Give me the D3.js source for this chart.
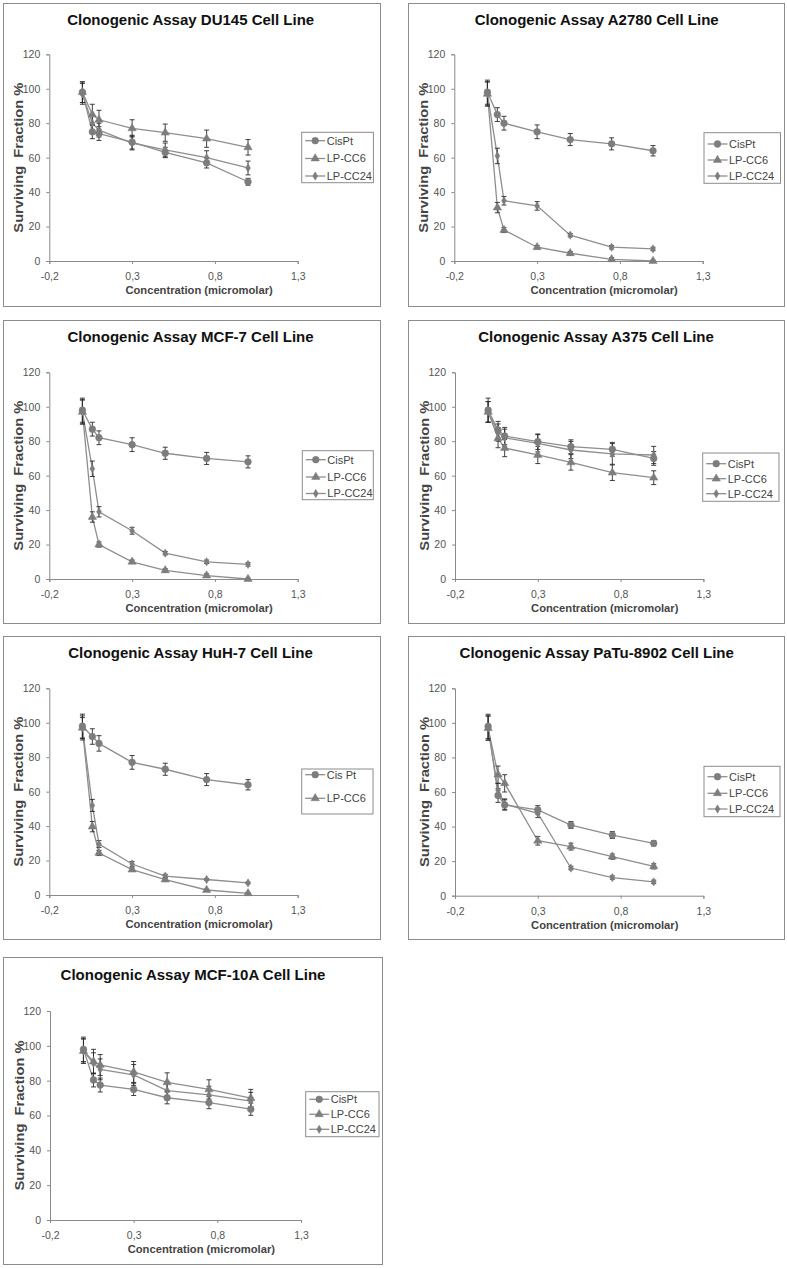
<!DOCTYPE html>
<html><head><meta charset="utf-8">
<script src="https://cdn.jsdelivr.net/npm/d3@7"></script>
<style>
html,body{margin:0;padding:0;background:#fff;}
svg{display:block;font-family:"Liberation Sans",Arial,sans-serif;}
</style></head>
<body>
<svg id="chart" width="787" height="1268"></svg>
<script>
// ---------- DATA ----------
const concentrations = [0, 0.06, 0.1, 0.3, 0.5, 0.75, 1.0];
const xTicks = [-0.2, 0.3, 0.8, 1.3];
const xTickLabels = ["-0,2", "0,3", "0,8", "1,3"];
const yTicks = [0, 20, 40, 60, 80, 100, 120];

const titles = [
  "Clonogenic Assay DU145 Cell Line",
  "Clonogenic Assay A2780 Cell Line",
  "Clonogenic Assay MCF-7 Cell Line",
  "Clonogenic Assay A375 Cell Line",
  "Clonogenic Assay HuH-7 Cell Line",
  "Clonogenic Assay PaTu-8902 Cell Line",
  "Clonogenic Assay MCF-10A Cell Line"
];
const seriesNames = ["CisPt", "LP-CC6", "LP-CC24"];
const seriesNamesHuH7 = ["Cis Pt", "LP-CC6"];
const markerShapes = ["circle", "triangle", "diamond"];

// DU145
const du145CisPt = [98, 75, 74, 69, 63, 57, 46];
const du145CisPtErr = [6, 4, 4, 4, 3, 3, 2];
const du145CC6 = [98, 85, 82, 77, 74.5, 71, 66];
const du145CC6Err = [6, 6, 5.5, 5, 5, 5, 4.5];
const du145CC24 = [97, 80, 76, 68.5, 64.5, 60, 54];
const du145CC24Err = [6, 5, 4, 4, 4, 4, 4];
// A2780
const a2780CisPt = [98, 85, 80, 75, 70.5, 68, 64];
const a2780CisPtErr = [7, 4, 4, 4, 3.5, 3.5, 3];
const a2780CC6 = [97, 31, 18, 8, 4.5, 1, 0];
const a2780CC6Err = [7, 3, 1.5, 1, 1, 1, 0.5];
const a2780CC24 = [97, 61, 35, 32, 15, 8, 7];
const a2780CC24Err = [7, 4.5, 2.5, 2.5, 1, 1, 1];
// MCF-7
const mcf7CisPt = [98, 87, 82, 78, 73, 70, 68];
const mcf7CisPtErr = [7, 4, 4, 4, 3.5, 3.5, 3.5];
const mcf7CC6 = [97, 36, 20, 10, 5, 2, 0];
const mcf7CC6Err = [7, 3, 1.5, 1, 1, 1, 0.5];
const mcf7CC24 = [97, 64, 39, 28, 15, 10, 8.5];
const mcf7CC24Err = [7, 4.5, 3, 2, 1, 1, 1];
// A375
const a375CisPt = [98, 86.5, 83, 79.7, 76.8, 75.3, 70];
const a375CisPtErr = [7, 5, 5, 4.5, 4, 4, 4];
const a375CC6 = [97, 81.7, 76, 72, 67.7, 61.7, 58.8];
const a375CC6Err = [6, 5.5, 5, 5, 4.5, 4.5, 4];
const a375CC24 = [97, 85, 82, 78.8, 74.9, 72.6, 72];
const a375CC24Err = [6, 5, 5, 5, 5, 6, 5];
// HuH-7
const huh7CisPt = [98, 92, 88, 77, 73, 67, 64];
const huh7CisPtErr = [7, 4.5, 4.5, 4, 3.5, 3.5, 3];
const huh7CC6 = [97, 39.7, 24.4, 14.7, 8.9, 2.9, 1];
const huh7CC6Err = [6, 3, 1.5, 1, 1, 0.5, 0.5];
const huh7Third = [97, 52, 29.6, 18, 11, 9, 7];
const huh7ThirdErr = [7, 3.5, 2, 1.5, 1, 0.5, 0.5];
// PaTu-8902
const patuCisPt = [98, 58, 52.5, 49.6, 40.9, 35.1, 30.3];
const patuCisPtErr = [7, 4, 3, 2.5, 2, 2, 1.5];
const patuCC6 = [97, 70, 65, 31.8, 28.4, 22.6, 17];
const patuCC6Err = [7, 5, 5, 2.5, 2, 1.5, 1.5];
const patuCC24 = [97, 61, 53, 47.7, 16, 10.5, 8];
const patuCC24Err = [7, 4, 3, 2.5, 1, 1, 1];
// MCF-10A
const mcf10aCisPt = [98, 80.4, 77.5, 75, 70.2, 67.4, 63.6];
const mcf10aCisPtErr = [7, 4, 4, 3.5, 3.5, 3.5, 3.5];
const mcf10aCC6 = [97, 91, 89, 85, 79, 75, 70];
const mcf10aCC6Err = [7, 7, 6, 6, 5.5, 5.5, 5];
const mcf10aCC24 = [97, 90, 86.5, 83.3, 74.3, 71.8, 68.3];
const mcf10aCC24Err = [7, 6, 6, 6, 5, 5, 5];

// ---------- LAYOUT (positions only) ----------
const layouts = [
  {frame:[3.5,3.5,377,303],   plot:[49.3,54.3,248.4,206.7],  title:[190.7,25],  legend:[301.7,132.3,71.7,50.4], entries:[140.7,158.5,176]},
  {frame:[408.5,3.5,376,303], plot:[454.3,54.3,248.4,206.7], title:[596.7,25],  legend:[704,132.7,76.5,50.6],  entries:[144,160,176]},
  {frame:[3.5,320.5,377,303], plot:[49.3,372.3,248.4,206.7], title:[190.5,342], legend:[302.3,450.7,71,49],    entries:[459.7,477,493.5]},
  {frame:[408.5,320.5,376,303],plot:[455,372.3,248.4,206.7], title:[596,342],   legend:[702.7,453,76.3,48.3],  entries:[463.7,478.7,493.7]},
  {frame:[3.5,636.5,377,303], plot:[49.3,688.3,248.4,206.7], title:[190.5,658], legend:[301.7,769,71.3,45],    entries:[774.7,798.3]},
  {frame:[408.5,636.5,376,303],plot:[455,688.3,248.4,207.4], title:[596.7,658], legend:[704,766.3,76,50.4],    entries:[776.7,793.3,809]},
  {frame:[3.5,957.5,379,307], plot:[50,1011,251,209],        title:[193,980],   legend:[305.7,1091.7,73.3,45], entries:[1099.3,1114.3,1129.3]}
];

const panelSeries = [
  {names: seriesNames, values:[du145CisPt, du145CC6, du145CC24], errs:[du145CisPtErr, du145CC6Err, du145CC24Err]},
  {names: seriesNames, values:[a2780CisPt, a2780CC6, a2780CC24], errs:[a2780CisPtErr, a2780CC6Err, a2780CC24Err]},
  {names: seriesNames, values:[mcf7CisPt, mcf7CC6, mcf7CC24], errs:[mcf7CisPtErr, mcf7CC6Err, mcf7CC24Err]},
  {names: seriesNames, values:[a375CisPt, a375CC6, a375CC24], errs:[a375CisPtErr, a375CC6Err, a375CC24Err]},
  {names: seriesNamesHuH7, values:[huh7CisPt, huh7CC6, huh7Third], errs:[huh7CisPtErr, huh7CC6Err, huh7ThirdErr]},
  {names: seriesNames, values:[patuCisPt, patuCC6, patuCC24], errs:[patuCisPtErr, patuCC6Err, patuCC24Err]},
  {names: seriesNames, values:[mcf10aCisPt, mcf10aCC6, mcf10aCC24], errs:[mcf10aCisPtErr, mcf10aCC6Err, mcf10aCC24Err]}
];

// ---------- STYLE ----------
const LINE = "#8e8e8e", MARK = "#7d7d7d", ERR = "#2a2a2a", AXIS = "#8a8a8a", TXT = "#555", FRAME = "#8c8c8c";

const svg = d3.select("#chart");
svg.append("rect").attr("width",787).attr("height",1268).attr("fill","#fff");

function markerPath(shape){
  if(shape==="circle") return d3.symbol(d3.symbolCircle, 36)();
  if(shape==="triangle") return d3.symbol(d3.symbolTriangle, 30)();
  return d3.symbol(d3.symbolDiamond, 20)();
}

titles.forEach((title, pi) => {
  const L = layouts[pi], S = panelSeries[pi];
  const g = svg.append("g");
  g.append("rect").attr("x",L.frame[0]).attr("y",L.frame[1]).attr("width",L.frame[2]).attr("height",L.frame[3])
    .attr("fill","#fff").attr("stroke",FRAME).attr("stroke-width",1);

  const [pl, pt, pw, ph] = L.plot;
  const x = d3.scaleLinear().domain([-0.2, 1.3]).range([pl, pl+pw]);
  const y = d3.scaleLinear().domain([0, 120]).range([pt+ph, pt]);

  // title
  g.append("text").attr("x",L.title[0]).attr("y",L.title[1]).attr("text-anchor","middle")
    .attr("font-size","15px").attr("font-weight","bold").attr("fill","#111").text(title);

  // axes
  const ya = g.append("g").attr("transform",`translate(${pl},0)`)
    .call(d3.axisLeft(y).tickValues(yTicks).tickSize(3).tickPadding(6).tickFormat(d3.format("d")));
  const xa = g.append("g").attr("transform",`translate(0,${pt+ph})`)
    .call(d3.axisBottom(x).tickValues(xTicks).tickSize(3).tickPadding(8.5).tickFormat((d,i)=>xTickLabels[i]));
  [ya, xa].forEach(a => {
    a.select(".domain").attr("stroke",AXIS).attr("stroke-width",1);
    a.selectAll(".tick line").attr("stroke",AXIS);
    a.selectAll(".tick text").attr("fill",TXT).attr("font-size","10.5px").attr("font-family","Liberation Sans, Arial, sans-serif");
  });

  // axis titles
  g.append("text").attr("x", pl + pw*0.603).attr("y", pt+ph+33).attr("text-anchor","middle")
    .attr("font-size","11.2px").attr("font-weight","bold").attr("fill","#444").text("Concentration (micromolar)");
  g.append("text").attr("transform",`translate(${pl-26.5},${pt+ph/2}) rotate(-90)`).attr("text-anchor","middle")
    .attr("font-size","12.5px").attr("font-weight","bold").attr("fill","#444")
    .attr("textLength",150).attr("lengthAdjust","spacingAndGlyphs")
    .style("white-space","pre").text("Surviving  Fraction %");

  // lines
  const line = d3.line().x((d,i)=>x(concentrations[i])).y(d=>y(d));
  S.values.forEach(vals => {
    g.append("path").attr("d", line(vals)).attr("fill","none").attr("stroke",LINE).attr("stroke-width",1.3);
  });
  // error bars
  S.values.forEach((vals, si) => {
    const errs = S.errs[si];
    const eg = g.append("g").attr("stroke",ERR).attr("stroke-width",0.9);
    vals.forEach((v,i) => {
      const cx = x(concentrations[i]);
      const y1 = y(v+errs[i]), y2 = y(Math.max(0, v-errs[i]));
      eg.append("line").attr("x1",cx).attr("x2",cx).attr("y1",y1).attr("y2",y2);
      eg.append("line").attr("x1",cx-2.5).attr("x2",cx+2.5).attr("y1",y1).attr("y2",y1);
      if (v-errs[i] >= 0) eg.append("line").attr("x1",cx-2.5).attr("x2",cx+2.5).attr("y1",y2).attr("y2",y2);
    });
  });
  // markers
  S.values.forEach((vals, si) => {
    const p = markerPath(markerShapes[si]);
    vals.forEach((v,i) => {
      g.append("path").attr("d",p).attr("transform",`translate(${x(concentrations[i])},${y(v)})`)
        .attr("fill",MARK).attr("stroke",MARK).attr("stroke-width",0.5);
    });
  });

  // legend
  const [lx, ly, lw, lh] = L.legend;
  g.append("rect").attr("x",lx).attr("y",ly).attr("width",lw).attr("height",lh)
    .attr("fill","#fff").attr("stroke",FRAME).attr("stroke-width",1);
  S.names.forEach((name, si) => {
    const ey = L.entries[si];
    g.append("line").attr("x1",lx+3.5).attr("x2",lx+23.5).attr("y1",ey).attr("y2",ey)
      .attr("stroke",LINE).attr("stroke-width",1.3);
    g.append("path").attr("d",markerPath(markerShapes[si])).attr("transform",`translate(${lx+13.5},${ey})`)
      .attr("fill",MARK).attr("stroke",MARK).attr("stroke-width",0.5);
    g.append("text").attr("x",lx+25).attr("y",ey).attr("dy","0.36em")
      .attr("font-size","11px").attr("fill","#444").text(name);
  });
});
</script>
</body></html>
